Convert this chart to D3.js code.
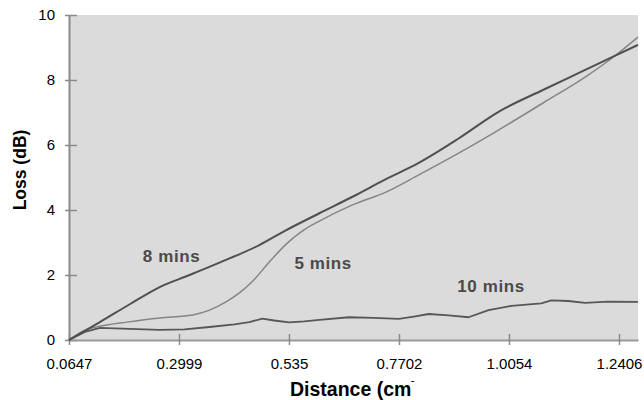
<!DOCTYPE html>
<html>
<head>
<meta charset="utf-8">
<script src="https://cdn.jsdelivr.net/npm/d3@7"></script>
<style>
  body { margin: 0; background: #fff; }
  svg { display: block; font-family: "Liberation Sans", Arial, sans-serif; }
</style>
</head>
<body>
<div id="chart"></div>
<script>
// x tick labels (distance, cm)
const xTicks = [0.0647, 0.2999, 0.535, 0.7702, 1.0054, 1.2406];
const yTicks = [0, 2, 4, 6, 8, 10];

// 8 mins
const dist8 = [0.0647, 0.1307, 0.1946, 0.2586, 0.3225, 0.3864, 0.4716, 0.5291, 0.6, 0.6697, 0.7422, 0.8125, 0.8977, 0.983, 1.079, 1.1682, 1.228, 1.2812];
const loss8 = [0, 0.55, 1.1, 1.63, 2.0, 2.38, 2.92, 3.38, 3.9, 4.4, 4.95, 5.45, 6.2, 7.02, 7.7, 8.31, 8.72, 9.08];

// 5 mins
const dist5 = [0.0647, 0.0988, 0.1307, 0.1883, 0.2586, 0.3289, 0.3651, 0.4013, 0.429, 0.4567, 0.493, 0.5291, 0.5632, 0.6, 0.6697, 0.7422, 0.8125, 0.8977, 0.983, 1.079, 1.1682, 1.228, 1.2812];
const loss5 = [0, 0.3, 0.42, 0.55, 0.68, 0.77, 0.92, 1.18, 1.45, 1.8, 2.4, 2.95, 3.35, 3.66, 4.15, 4.55, 5.08, 5.75, 6.46, 7.3, 8.09, 8.7, 9.32];

// 10 mins
const dist10 = [0.0647, 0.0988, 0.1307, 0.1946, 0.2586, 0.3118, 0.3651, 0.4184, 0.4503, 0.478, 0.5036, 0.5355, 0.5675, 0.6, 0.6633, 0.7166, 0.7699, 0.8018, 0.8338, 0.8764, 0.919, 0.9616, 1.0106, 1.0745, 1.0958, 1.132, 1.1682, 1.2172, 1.2812];
const loss10 = [0, 0.25, 0.37, 0.34, 0.31, 0.33, 0.4, 0.48, 0.55, 0.66, 0.6, 0.54, 0.57, 0.62, 0.7, 0.68, 0.65, 0.72, 0.8, 0.76, 0.7, 0.92, 1.05, 1.13, 1.22, 1.2, 1.14, 1.18, 1.17];

const width = 644;
const height = 400;
const plotLeft = 69, plotRight = 638, plotTop = 15, plotBottom = 340;

const x = d3.scaleLinear()
    .domain([0.0647, 1.2812])
    .range([plotLeft, plotRight]);

const y = d3.scaleLinear()
    .domain([0, 10])
    .range([plotBottom, plotTop]);

const svg = d3.select("#chart")
    .append("svg")
    .attr("width", width)
    .attr("height", height);

// plot background
svg.append("rect")
    .attr("x", plotLeft)
    .attr("y", plotTop)
    .attr("width", plotRight - plotLeft)
    .attr("height", plotBottom - plotTop)
    .attr("fill", "#dbdbdb");

// y axis
const yAxis = svg.append("g")
    .attr("transform", `translate(${plotLeft},0)`)
    .call(d3.axisLeft(y).tickValues(yTicks).tickSize(0).tickPadding(14));
yAxis.select(".domain").attr("stroke", "#8a8a8a").attr("stroke-width", 2);
yAxis.selectAll(".tick text").style("font-size", "15px").attr("fill", "#000");
yAxis.selectAll(".tick").append("line")
    .attr("x1", -4).attr("x2", 8)
    .attr("stroke", "#8a8a8a").attr("stroke-width", 1.5);

// x axis
const xAxis = svg.append("g")
    .attr("transform", `translate(0,${plotBottom})`)
    .call(d3.axisBottom(x).tickValues(xTicks).tickFormat(d => String(d)).tickSize(0).tickPadding(18));
xAxis.select(".domain").attr("stroke", "#9a9a9a").attr("stroke-width", 2);
xAxis.selectAll(".tick text").style("font-size", "15px").attr("fill", "#000");
xAxis.selectAll(".tick").append("line")
    .attr("y1", -6).attr("y2", 5)
    .attr("stroke", "#8a8a8a").attr("stroke-width", 1.5);

// lines
const smooth = d3.line()
    .x(d => x(d[0]))
    .y(d => y(d[1]))
    .curve(d3.curveMonotoneX);

const jagged = d3.line()
    .x(d => x(d[0]))
    .y(d => y(d[1]));

const series = [
    { dist: dist10, loss: loss10, color: "#575757", w: 1.8, gen: jagged },
    { dist: dist5, loss: loss5, color: "#858585", w: 1.5, gen: smooth },
    { dist: dist8, loss: loss8, color: "#505050", w: 2, gen: smooth }
];

series.forEach(s => {
    svg.append("path")
        .datum(d3.zip(s.dist, s.loss))
        .attr("fill", "none")
        .attr("stroke", s.color)
        .attr("stroke-width", s.w)
        .attr("stroke-linejoin", "round")
        .attr("d", s.gen);
});

// series labels
const labels = [
    { text: "8 mins", at: [0.284, 2.4] },
    { text: "5 mins", at: [0.608, 2.2] },
    { text: "10 mins", at: [0.967, 1.48] }
];
svg.selectAll(".slabel")
    .data(labels)
    .enter()
    .append("text")
    .attr("class", "slabel")
    .attr("x", d => x(d.at[0]))
    .attr("y", d => y(d.at[1]))
    .attr("text-anchor", "middle")
    .style("font-size", "17px")
    .style("font-weight", "bold")
    .style("letter-spacing", "0.6px")
    .attr("fill", "#4a4a4a")
    .text(d => d.text);

// axis titles
svg.append("text")
    .attr("transform", `translate(26,170) rotate(-90)`)
    .attr("text-anchor", "middle")
    .style("font-size", "17.5px")
    .style("font-weight", "bold")
    .text("Loss (dB)");

svg.append("text")
    .attr("x", 290)
    .attr("y", 396)
    .style("font-size", "19.5px")
    .style("font-weight", "bold")
    .text("Distance (cm");

svg.append("defs").append("clipPath")
    .attr("id", "paren")
    .append("rect")
    .attr("x", 410).attr("y", 375).attr("width", 20).attr("height", 7);

svg.append("text")
    .attr("x", 411)
    .attr("y", 396)
    .attr("clip-path", "url(#paren)")
    .style("font-size", "19.5px")
    .style("font-weight", "bold")
    .text(")");
</script>
</body>
</html>
